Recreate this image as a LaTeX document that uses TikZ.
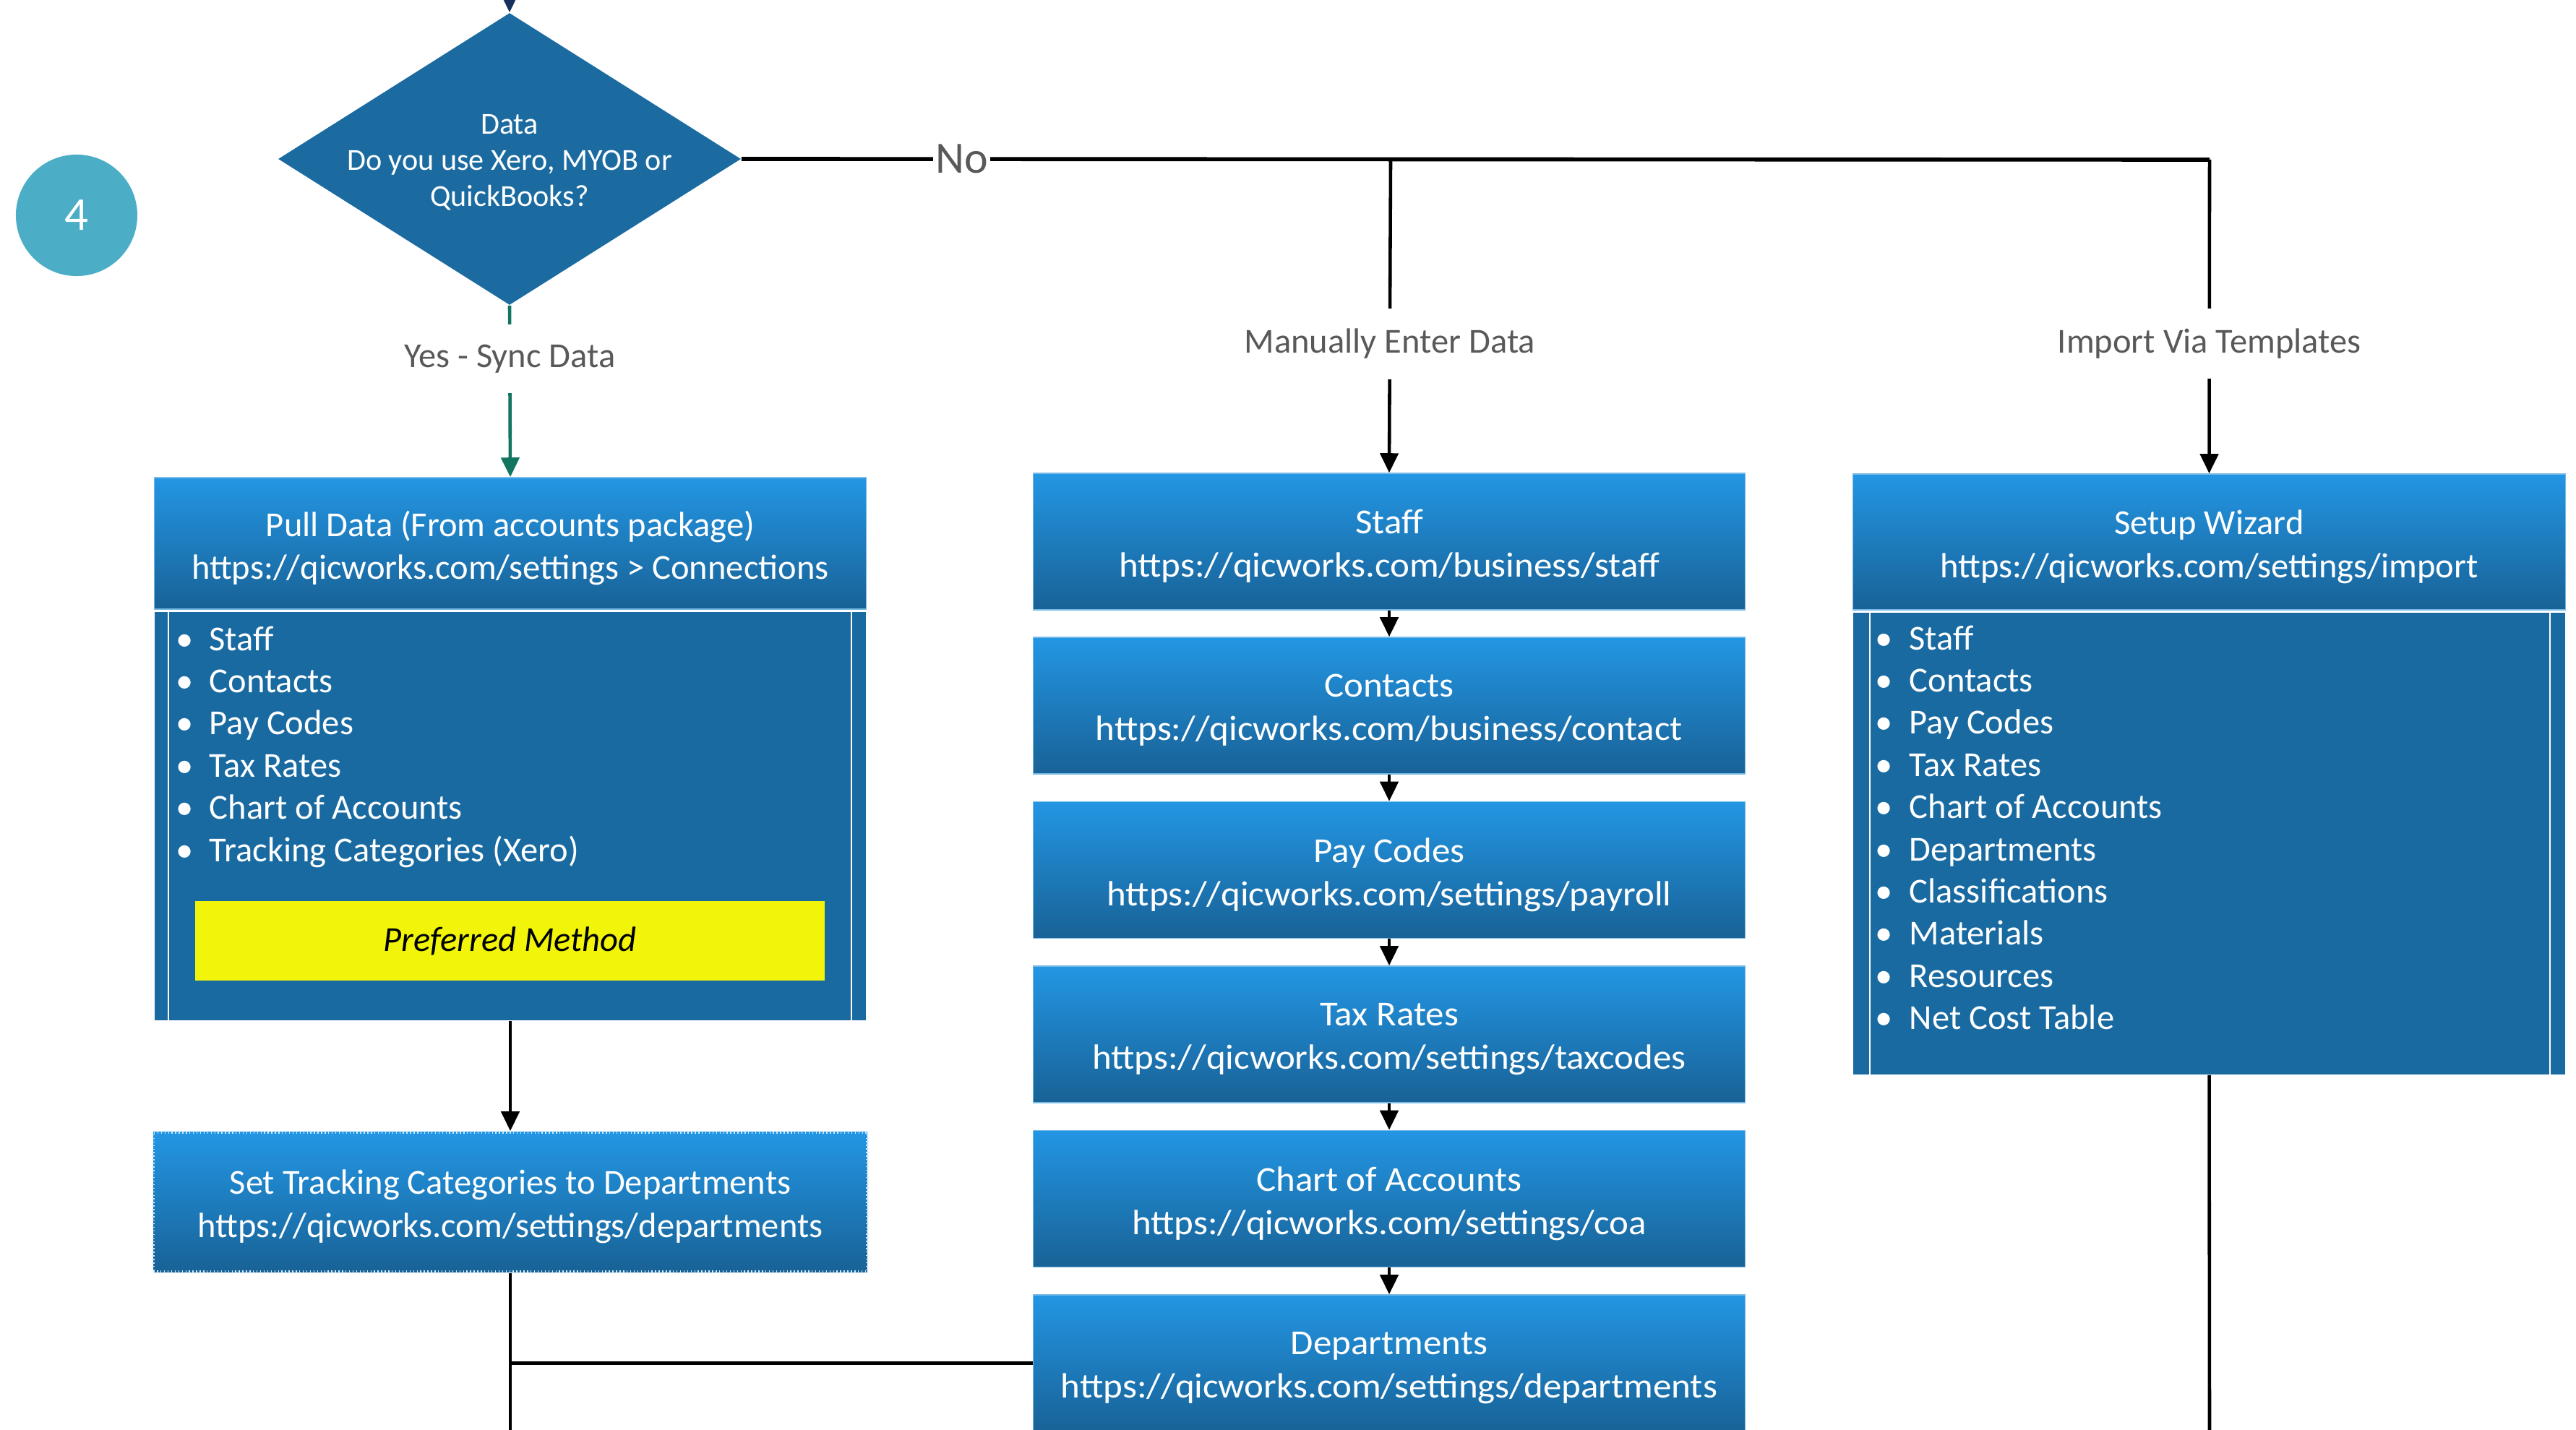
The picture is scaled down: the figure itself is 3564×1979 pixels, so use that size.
\documentclass[tikz,border=0pt]{standalone}
\usepackage{fontspec}
\setmainfont{Carlito}
\newfontfamily\widefont[FakeStretch=1.05]{Carlito}
\usetikzlibrary{arrows.meta,shapes.geometric}
\definecolor{hdtop}{RGB}{35,150,228}
\definecolor{hdbot}{RGB}{24,98,150}
\definecolor{bodyc}{RGB}{25,106,161}
\definecolor{diac}{RGB}{27,107,161}
\definecolor{circc}{RGB}{75,174,198}
\definecolor{yelc}{RGB}{242,245,10}
\definecolor{lblgray}{RGB}{89,89,89}
\definecolor{grnc}{RGB}{18,117,96}
\definecolor{navyc}{RGB}{22,50,92}
\definecolor{edgec}{RGB}{120,185,230}
\tikzset{
  hdr/.style={top color=hdtop, bottom color=hdbot, draw=edgec, line width=0.4pt, inner sep=0pt,
    minimum width=9.84cm, minimum height=1.89cm},
  hdrtext/.style={text=white, align=center, font=\fontsize{13.8}{17}\selectfont, inner sep=0pt},
  midtext/.style={hdrtext, font=\widefont\fontsize{13.8}{17}\selectfont},
  bodybox/.style={fill=bodyc, draw=none, inner sep=0pt, minimum width=9.84cm},
  item/.style={text=white, font=\fontsize{13.8}{16}\selectfont, inner sep=0pt, anchor=base west},
  lbl/.style={text=lblgray, fill=white, font=\fontsize{13.8}{16}\selectfont, inner xsep=3pt, inner ysep=8pt},
  conn/.style={line width=1.3pt, draw=black},
  arr/.style={conn, -{Triangle[length=0.27cm,width=0.25cm]}},
  innerline/.style={draw=white, line width=0.8pt},
}
\newcommand\hdrbox[6]{% name, x, y, box options, text style, text
  \node[hdr,#4] (#1) at (#2,#3) {};
  \node[#5] (#1t) at ([yshift=-0.065cm]#1.center) {#6};}
\begin{document}
\begin{tikzpicture}[x=0.01cm,y=-0.01cm]
\useasboundingbox (0,0) rectangle (3564,1979);

% step number
\node[circle, fill=circc, minimum size=1.68cm, inner sep=0pt, text=white,
      font=\fontsize{18.5}{20}\selectfont] (num) at (106,298) {4};

% decision
\node[diamond, fill=diac, minimum width=6.4cm, minimum height=4.04cm, inner sep=0pt] (dia) at (705,220) {};
\node[text=white, align=center, font=\fontsize{12}{14.2}\selectfont, inner sep=0pt] (diat) at (705,225)
  {Data\\Do you use Xero, MYOB or\\QuickBooks?};
\coordinate (topin) at (705,-30);
\draw[line width=1.3pt, navyc, -{Triangle[length=0.27cm,width=0.25cm]}] (topin) -- (dia.north);

% left column
\hdrbox{pullh}{706}{752}{minimum height=1.82cm}{hdrtext}
  {Pull Data (From accounts package)\\https://qicworks.com/settings > Connections}
\node[bodybox, minimum height=5.65cm] (pullb) at (706,1129.5) {};
\draw[innerline] (233,847) -- (233,1412);
\draw[innerline] (1178,847) -- (1178,1412);
\foreach [count=\i] \t in {Staff,Contacts,Pay Codes,Tax Rates,Chart of Accounts,Tracking Categories (Xero)}
  \node[item] (pl\i) at (243,{900+58.4*(\i-1)}) {\makebox[0.46cm][l]{•}\t};
\node[fill=yelc, minimum width=8.71cm, minimum height=1.10cm, inner sep=0pt,
      font=\fontsize{13.8}{16}\selectfont\itshape] (pref) at (705.5,1302) {Preferred Method};

\hdrbox{track}{706}{1663.5}{draw=white!80!hdtop, densely dotted, line width=1pt, minimum width=9.87cm, minimum height=1.93cm}{hdrtext}
  {Set Tracking Categories to Departments\\https://qicworks.com/settings/departments}

% middle column
\hdrbox{mstaff}{1922}{749.5}{}{midtext}{Staff\\https://qicworks.com/business/staff}
\hdrbox{mcont}{1922}{976.5}{}{midtext}{Contacts\\https://qicworks.com/business/contact}
\hdrbox{mpay}{1922}{1204}{}{midtext}{Pay Codes\\https://qicworks.com/settings/payroll}
\hdrbox{mtax}{1922}{1431.5}{}{midtext}{Tax Rates\\https://qicworks.com/settings/taxcodes}
\hdrbox{mcoa}{1922}{1659}{}{midtext}{Chart of Accounts\\https://qicworks.com/settings/coa}
\hdrbox{mdept}{1922}{1886.5}{}{midtext}{Departments\\https://qicworks.com/settings/departments}

% right column
\hdrbox{wizh}{3056.5}{750}{minimum width=9.85cm, minimum height=1.88cm}{hdrtext}
  {Setup Wizard\\https://qicworks.com/settings/import}
\node[bodybox, minimum width=9.85cm, minimum height=6.39cm] (wizb) at (3056.5,1167.5) {};
\draw[innerline] (2587,848) -- (2587,1487);
\draw[innerline] (3528,848) -- (3528,1487);
\foreach [count=\i] \t in {Staff,Contacts,Pay Codes,Tax Rates,Chart of Accounts,Departments,Classifications,Materials,Resources,Net Cost Table}
  \node[item] (wl\i) at (2594,{899+58.4*(\i-1)}) {\makebox[0.47cm][l]{•}\t};

% connectors
\coordinate (jm) at (1924,221);
\coordinate (ji) at (3057,221);
\coordinate (bl) at (706,2010);
\coordinate (br) at (3057,2010);

\draw[line width=1.3pt, grnc, -{Triangle[length=0.27cm,width=0.25cm]}] (dia.south) --
  node[lbl, pos=0.31] (yes) {Yes - Sync Data} (pullh.north);
\draw[conn, line width=1.6pt] (dia.east) -- node[pos=0.15, text=lblgray, fill=white, inner sep=1pt,
  font=\fontsize{17.6}{20}\selectfont] (no) {No} (ji);
\draw[arr] (jm) -- node[lbl, pos=0.588] (man) {Manually Enter Data} (mstaff.north);
\draw[arr] (ji) -- node[lbl, pos=0.586] (imp) {Import Via Templates} (wizh.north);

\draw[arr] (mstaff.south) -- (mcont.north);
\draw[arr] (mcont.south) -- (mpay.north);
\draw[arr] (mpay.south) -- (mtax.north);
\draw[arr] (mtax.south) -- (mcoa.north);
\draw[arr] (mcoa.south) -- (mdept.north);

\draw[arr] (pullb.south) -- (track.north);
\draw[conn] (track.south) -- (bl);
\draw[conn] (track.south) |- (mdept.west);
\draw[conn] (wizb.south) -- (br);
\end{tikzpicture}
\end{document}
